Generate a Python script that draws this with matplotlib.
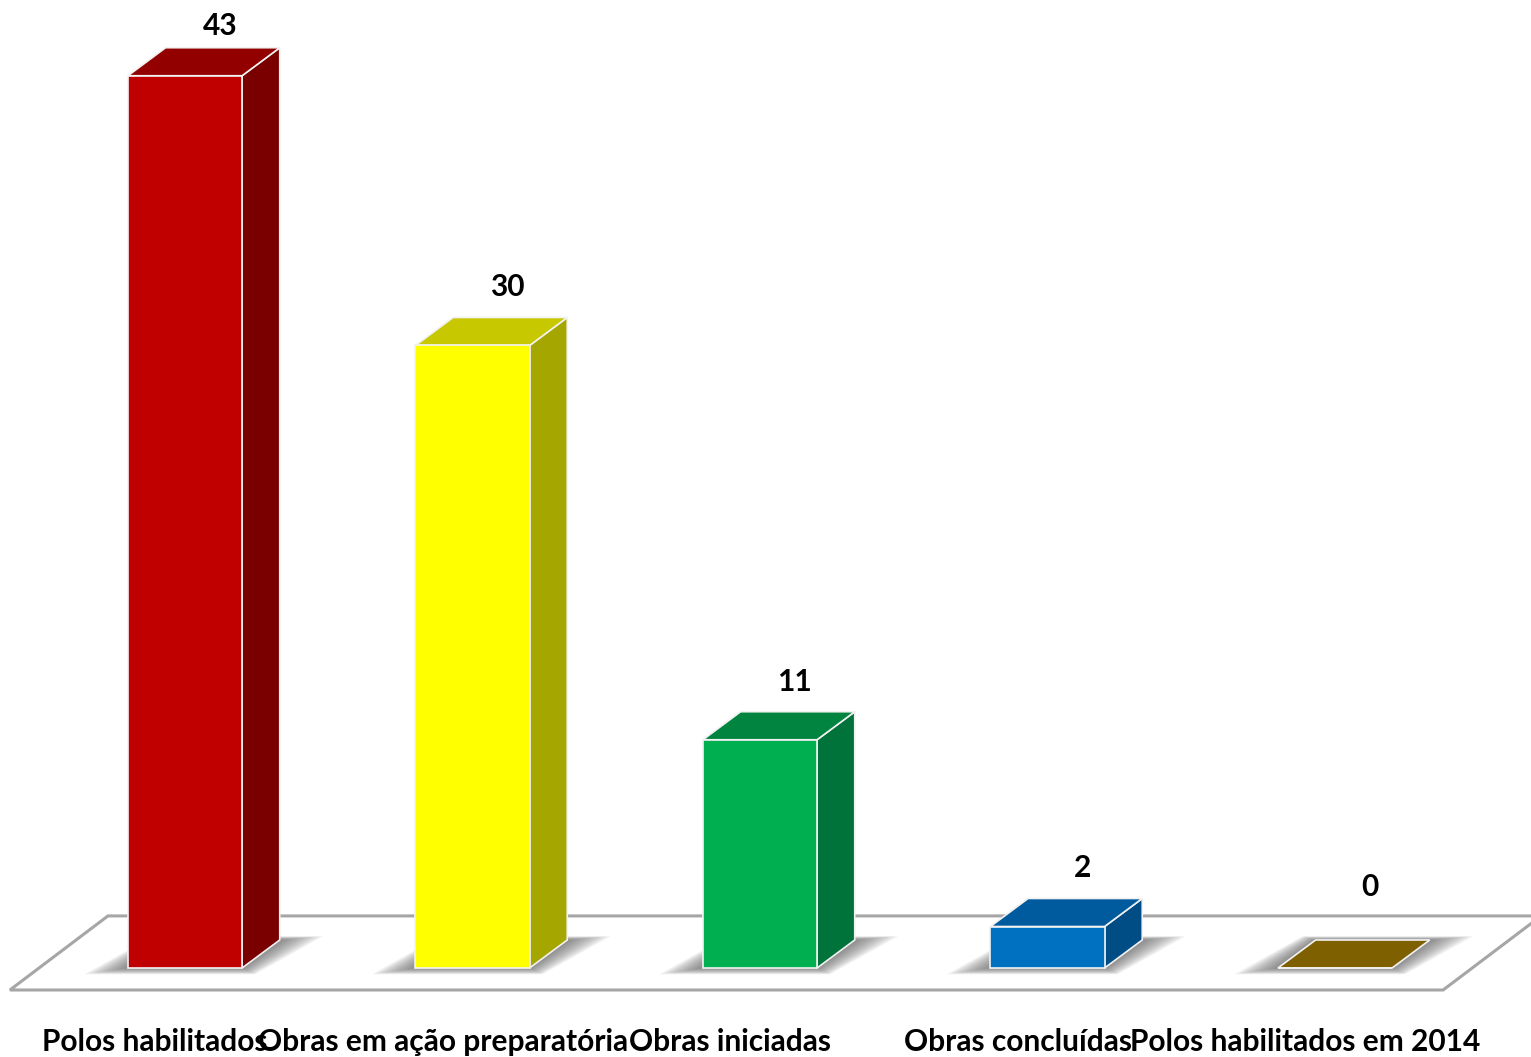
import matplotlib
matplotlib.use('Agg')
import matplotlib.pyplot as plt
from matplotlib.patches import Polygon

# Dados do gráfico
categorias = ['Polos habilitados', 'Obras em ação preparatória', 'Obras iniciadas',
              'Obras concluídas', 'Polos habilitados em 2014']
valores = [43, 30, 11, 2, 0]

# Cores: frente, lateral, topo
cores_frente = ['#C00000', '#FFFF00', '#00B050', '#0070C0', '#7F6000']
cores_lado = ['#7A0000', '#A6A600', '#00733A', '#004C85', '#5F4800']
cores_topo = ['#920000', '#C8C800', '#00843F', '#005A9E', '#7F6000']

plt.rcParams['font.family'] = ['Lato', 'DejaVu Sans']

fig = plt.figure(figsize=(15.31, 10.57), dpi=100)
ax = fig.add_axes([0, 0, 1, 1])
ax.set_xlim(-0.6435, 4.6817)
ax.set_ylim(-4.289, 46.65)
ax.axis('off')

largura = 0.397   # largura da barra (em categorias)
prof_x = 0.131    # deslocamento da profundidade
prof_y = 1.35

# Piso (parallelogramo)
piso_frente, piso_fundo = -1.06, 2.51
piso_esq, piso_dir, piso_dx = -0.609, 4.376, 0.341
piso = Polygon([(piso_esq, piso_frente), (piso_dir, piso_frente),
                (piso_dir + piso_dx, piso_fundo), (piso_esq + piso_dx, piso_fundo)],
               closed=True, facecolor='white', edgecolor='#A6A6A6', linewidth=2.2, zorder=1)
ax.add_patch(piso)

xs = list(range(len(valores)))

# Sombras suaves na base das barras
for x in xs:
    xl, xr = x - largura / 2, x + largura / 2
    for i in range(10):
        e = 0.15 * (1 - i / 10)
        ey = 0.3 * (1 - i / 10)
        sombra = Polygon([(xl - e, -ey), (xr + e * 0.3, -ey),
                          (xr + prof_x + e, prof_y + ey * 0.6), (xl + prof_x - e * 0.3, prof_y + ey * 0.6)],
                         closed=True, facecolor='#505050', edgecolor='none', alpha=0.09, zorder=2)
        ax.add_patch(sombra)

# Face frontal
ax.bar(xs, valores, width=largura, color=cores_frente, edgecolor='#F2F2F2', linewidth=1.2, zorder=4)

for x, v, cl, ct in zip(xs, valores, cores_lado, cores_topo):
    xl, xr = x - largura / 2, x + largura / 2
    # lateral
    if v > 0:
        lado = Polygon([(xr, 0), (xr, v), (xr + prof_x, v + prof_y), (xr + prof_x, prof_y)],
                       closed=True, facecolor=cl, edgecolor='#F2F2F2', linewidth=1.2, zorder=3)
        ax.add_patch(lado)
    # topo
    topo = Polygon([(xl, v), (xr, v), (xr + prof_x, v + prof_y), (xl + prof_x, v + prof_y)],
                   closed=True, facecolor=ct, edgecolor='#F2F2F2', linewidth=1.2, zorder=3)
    ax.add_patch(topo)

# Rótulos de valor
for x, v in zip(xs, valores):
    y = max(v + prof_y + 1.45, piso_fundo + 1.4)
    y = min(y, 45.4)
    ax.text(x + prof_x - 0.01, y, str(v), ha='center', va='center',
            fontsize=21.5, fontweight='bold', color='black', zorder=6)

# Rótulos das categorias
for x, c in zip(xs, categorias):
    ax.text(x - 0.104, -3.57, c, ha='center', va='center',
            fontsize=21.5, fontweight='bold', color='black', zorder=6)

fig.savefig('out.png', dpi=100, facecolor='white')
